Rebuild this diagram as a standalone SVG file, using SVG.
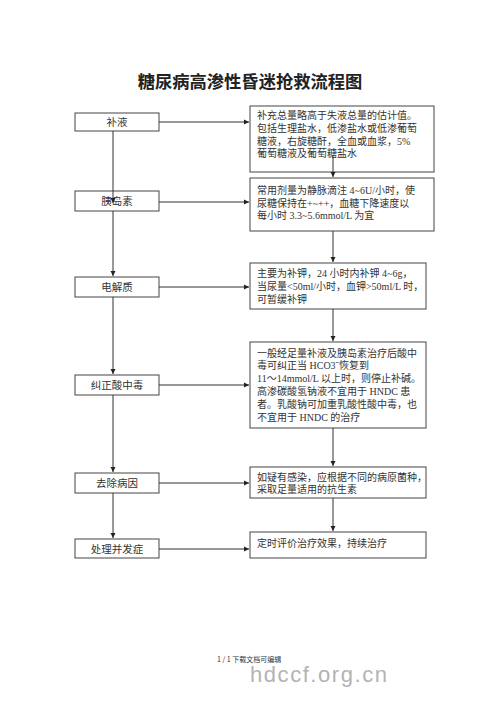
<svg xmlns="http://www.w3.org/2000/svg" width="500" height="708" viewBox="0 0 500 708">
<defs>
<marker id="ah" markerWidth="6" markerHeight="6" refX="5" refY="3" orient="auto" markerUnits="userSpaceOnUse">
<path d="M0,0.5 L5,3 L0,5.5 Z" fill="#222"/>
</marker>
<style>
.box{fill:#fff;stroke:#444;stroke-width:1}
.t{font-family:"Liberation Serif","Noto Sans CJK SC",serif;font-size:10.5px;fill:#333}
.s{font-size:10px}
.c{text-anchor:middle}
.ln{stroke:#333;stroke-width:1;fill:none;marker-end:url(#ah)}
</style>
</defs>
<rect width="500" height="708" fill="#fff"/>
<text x="250" y="88" text-anchor="middle" font-family="'Noto Sans CJK SC',sans-serif" font-weight="bold" font-size="17.3" fill="#222">糖尿病高渗性昏迷抢救流程图</text>

<g id="n1"><rect class="box" x="75" y="113" width="84" height="18"/><text class="t c" x="117" y="126">补液</text></g>
<g id="n2"><rect class="box" x="75" y="191" width="84" height="20"/><text class="t c" x="117" y="205">胰岛素</text></g>
<g id="n3"><rect class="box" x="75" y="277" width="84" height="20"/><text class="t c" x="117" y="291">电解质</text></g>
<g id="n4"><rect class="box" x="75" y="375" width="84" height="20"/><text class="t c" x="117" y="389">纠正酸中毒</text></g>
<g id="n5"><rect class="box" x="75" y="473" width="84" height="20"/><text class="t c" x="117" y="487">去除病因</text></g>
<g id="n6"><rect class="box" x="75" y="539" width="84" height="19"/><text class="t c" x="117" y="553">处理并发症</text></g>

<g id="r1"><rect class="box" x="250" y="106" width="184" height="66"/>
<text class="t s" x="257" y="119">补充总量略高于失液总量的估计值。</text>
<text class="t s" x="257" y="132">包括生理盐水，低渗盐水或低渗葡萄</text>
<text class="t s" x="257" y="145">糖液，右旋糖酐，全血或血浆，5%</text>
<text class="t s" x="257" y="157">葡萄糖液及葡萄糖盐水</text></g>
<g id="r2"><rect class="box" x="250" y="178" width="184" height="53"/>
<text class="t s" x="257" y="194">常用剂量为静脉滴注 4~6U/小时，使</text>
<text class="t s" x="257" y="207">尿糖保持在+~++，血糖下降速度以</text>
<text class="t s" x="257" y="219">每小时 3.3~5.6mmol/L 为宜</text></g>
<g id="r3"><rect class="box" x="250" y="263" width="176" height="46"/>
<text class="t s" x="257" y="277">主要为补钾，24 小时内补钾 4~6g，</text>
<text class="t s" x="257" y="290">当尿量&lt;50ml/小时，血钾&gt;50ml/L 时，</text>
<text class="t s" x="257" y="303">可暂缓补钾</text></g>
<g id="r4"><rect class="box" x="250" y="342" width="176" height="86"/>
<text class="t s" x="257" y="357">一般经足量补液及胰岛素治疗后酸中</text>
<text class="t s" x="257" y="369">毒可纠正当 HCO3ˉ恢复到</text>
<text class="t s" x="257" y="382">11～14mmol/L 以上时，则停止补碱。</text>
<text class="t s" x="257" y="395">高渗碳酸氢钠液不宜用于 HNDC 患</text>
<text class="t s" x="257" y="408">者。乳酸钠可加重乳酸性酸中毒，也</text>
<text class="t s" x="257" y="421">不宜用于 HNDC 的治疗</text></g>
<g id="r5"><rect class="box" x="250" y="467" width="176" height="31"/>
<text class="t s" x="257" y="481">如疑有感染，应根据不同的病原菌种，</text>
<text class="t s" x="257" y="493">采取足量适用的抗生素</text></g>
<g id="r6"><rect class="box" x="250" y="532" width="176" height="26"/>
<text class="t s" x="257" y="547">定时评价治疗效果，持续治疗</text></g>

<g id="connectors">
<line class="ln" x1="159" y1="122" x2="249" y2="122"/>
<line class="ln" x1="159" y1="202" x2="249" y2="202"/>
<line class="ln" x1="159" y1="287" x2="249" y2="287"/>
<line class="ln" x1="159" y1="385" x2="249" y2="385"/>
<line class="ln" x1="159" y1="483" x2="249" y2="483"/>
<line class="ln" x1="159" y1="549" x2="249" y2="549"/>
<line class="ln" x1="113" y1="131" x2="113" y2="203"/>
<line class="ln" x1="113" y1="211" x2="113" y2="276"/>
<line class="ln" x1="113" y1="297" x2="113" y2="374"/>
<line class="ln" x1="113" y1="395" x2="113" y2="472"/>
<line class="ln" x1="113" y1="493" x2="113" y2="538"/>
<line class="ln" x1="333" y1="155" x2="333" y2="177"/>
<line class="ln" x1="333" y1="231" x2="333" y2="262"/>
<line class="ln" x1="333" y1="309" x2="333" y2="341"/>
<line class="ln" x1="333" y1="428" x2="333" y2="466"/>
<line class="ln" x1="333" y1="498" x2="333" y2="531"/>
</g>

<text x="217" y="662" font-family="'Noto Sans CJK SC',sans-serif" font-size="7" fill="#333">1 / 1 下载文档可编辑</text>
<text x="250" y="682" font-family="'Liberation Sans',sans-serif" font-size="22" fill="#b3b3b3" textLength="137" lengthAdjust="spacing">hdccf.org.cn</text>
</svg>
